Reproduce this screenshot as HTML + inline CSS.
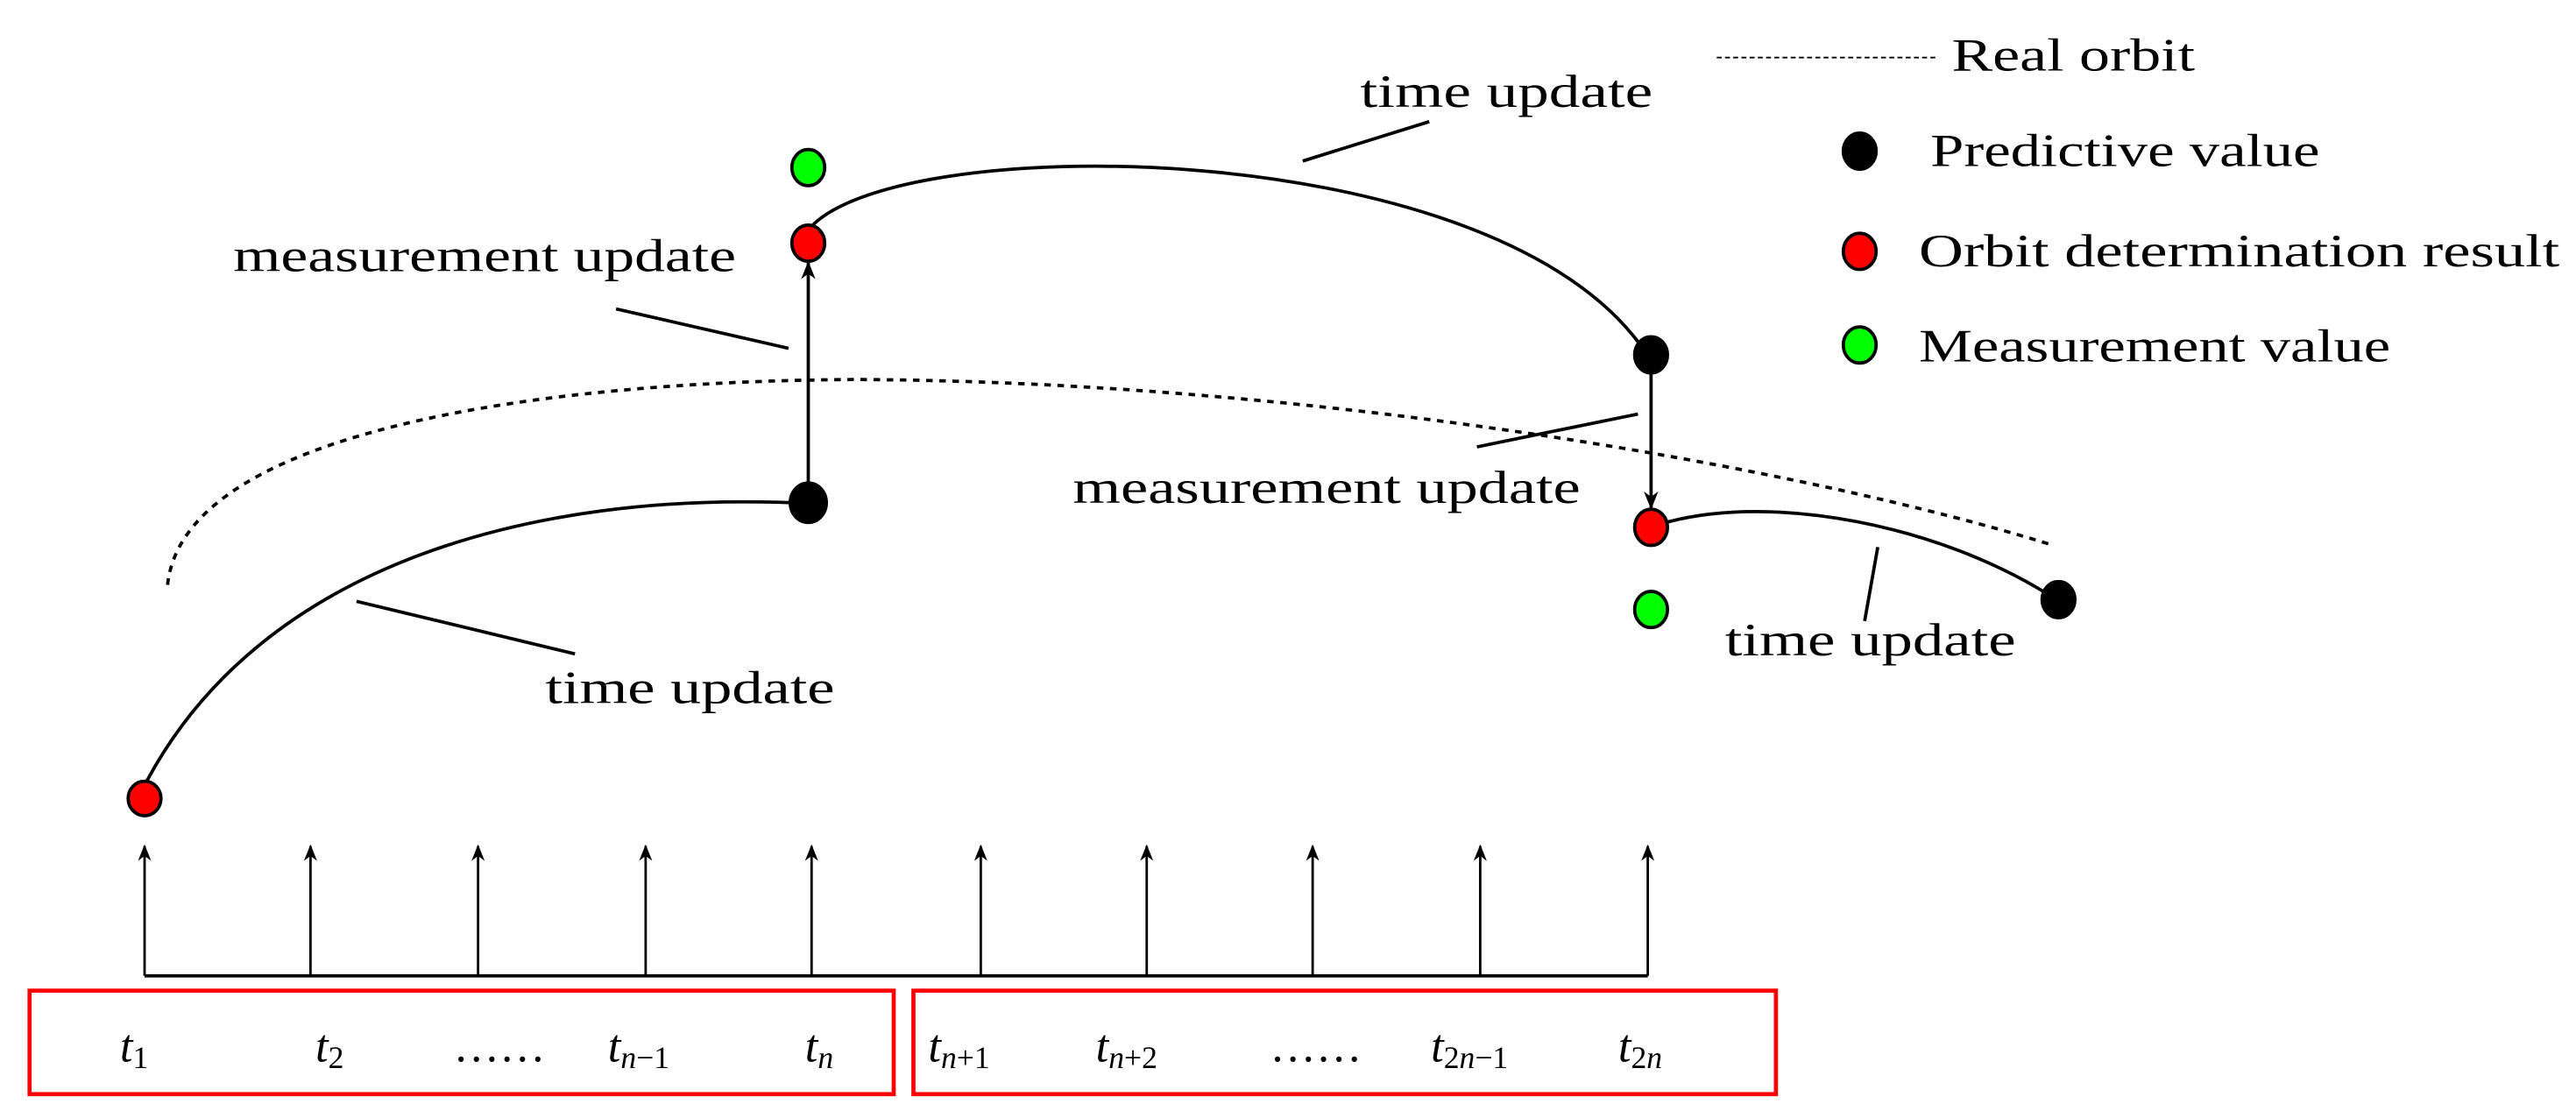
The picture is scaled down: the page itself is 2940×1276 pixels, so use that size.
<!DOCTYPE html>
<html><head><meta charset="utf-8"><style>
html,body{margin:0;padding:0;background:#fff;}
svg{display:block;}
text{font-family:"Liberation Serif",serif;fill:#000;}
</style></head><body>
<svg width="2940" height="1276" viewBox="0 0 1568 680.5" xmlns="http://www.w3.org/2000/svg">
<defs>
<marker id="ah" viewBox="0 0 10 10" refX="9" refY="5" markerWidth="12" markerHeight="10" markerUnits="userSpaceOnUse" orient="auto">
<path d="M0,1 L10,5 L0,9 L3,5 Z" fill="#000"/></marker>
<marker id="ah2" viewBox="0 0 10 10" refX="9" refY="5" markerWidth="13" markerHeight="11" markerUnits="userSpaceOnUse" orient="auto">
<path d="M0,1 L10,5 L0,9 L3,5 Z" fill="#000"/></marker>
</defs>
<line x1="88" y1="594" x2="1003" y2="594" stroke="#000" stroke-width="2"/>
<g stroke="#000" stroke-width="1.5" marker-end="url(#ah)">
<line x1="88" y1="594" x2="88" y2="515"/>
<line x1="189" y1="594" x2="189" y2="515"/>
<line x1="291" y1="594" x2="291" y2="515"/>
<line x1="393" y1="594" x2="393" y2="515"/>
<line x1="494" y1="594" x2="494" y2="515"/>
<line x1="597" y1="594" x2="597" y2="515"/>
<line x1="698" y1="594" x2="698" y2="515"/>
<line x1="799" y1="594" x2="799" y2="515"/>
<line x1="901" y1="594" x2="901" y2="515"/>
<line x1="1003" y1="594" x2="1003" y2="515"/>
</g>
<rect x="18" y="603" width="526" height="63" fill="none" stroke="#f00" stroke-width="2.5"/>
<rect x="556" y="603" width="525" height="63" fill="none" stroke="#f00" stroke-width="2.5"/>
<g font-size="28" font-style="italic">
<text x="73" y="646">t<tspan font-size="19" font-style="normal" dy="4">1</tspan></text>
<text x="192" y="646">t<tspan font-size="19" font-style="normal" dy="4">2</tspan></text>
<text x="276" y="646" font-style="normal">……</text>
<text x="370" y="646">t<tspan font-size="19" dy="4">n</tspan><tspan font-size="19" font-style="normal">−1</tspan></text>
<text x="490" y="646">t<tspan font-size="19" dy="4">n</tspan></text>
<text x="565" y="646">t<tspan font-size="19" dy="4">n</tspan><tspan font-size="19" font-style="normal">+1</tspan></text>
<text x="667" y="646">t<tspan font-size="19" dy="4">n</tspan><tspan font-size="19" font-style="normal">+2</tspan></text>
<text x="773" y="646" font-style="normal">……</text>
<text x="871" y="646">t<tspan font-size="19" font-style="normal" dy="4">2</tspan><tspan font-size="19">n</tspan><tspan font-size="19" font-style="normal">−1</tspan></text>
<text x="985" y="646">t<tspan font-size="19" font-style="normal" dy="4">2</tspan><tspan font-size="19">n</tspan></text>
</g>
<path d="M102,356 C112,262 330,232 520,231 C800,232 1100,285 1250,332" fill="none" stroke="#000" stroke-width="2" stroke-dasharray="4,4"/>
<path d="M88,478 C160,340 330,300 482,306" fill="none" stroke="#000" stroke-width="2"/>
<path d="M492,140 C540,80 900,80 997,208" fill="none" stroke="#000" stroke-width="2"/>
<path d="M1014,318 C1080,300 1180,320 1247,362" fill="none" stroke="#000" stroke-width="2"/>
<line x1="492" y1="298" x2="492" y2="160" stroke="#000" stroke-width="2" marker-end="url(#ah2)"/>
<line x1="1005" y1="226" x2="1005" y2="309" stroke="#000" stroke-width="2" marker-end="url(#ah2)"/>
<g stroke="#000" stroke-width="2">
<line x1="375" y1="188" x2="480" y2="212"/>
<line x1="793" y1="98" x2="870" y2="74"/>
<line x1="899" y1="272" x2="997" y2="252"/>
<line x1="217" y1="366" x2="350" y2="398"/>
<line x1="1143" y1="333" x2="1135" y2="378"/>
</g>
<g stroke="#000" stroke-width="2">
<ellipse cx="88" cy="486" rx="10" ry="10.5" fill="#f00"/>
<ellipse cx="492" cy="306" rx="11" ry="12" fill="#000"/>
<ellipse cx="492" cy="148" rx="10" ry="11" fill="#f00"/>
<ellipse cx="492" cy="102" rx="10" ry="11" fill="#0f0"/>
<ellipse cx="1005" cy="216" rx="10" ry="11" fill="#000"/>
<ellipse cx="1005" cy="321" rx="10" ry="11" fill="#f00"/>
<ellipse cx="1005" cy="371" rx="10" ry="11" fill="#0f0"/>
<ellipse cx="1253" cy="365" rx="10" ry="11" fill="#000"/>
<ellipse cx="1132" cy="92" rx="10" ry="11" fill="#000"/>
<ellipse cx="1132" cy="153" rx="10" ry="11" fill="#f00"/>
<ellipse cx="1132" cy="210" rx="10" ry="11" fill="#0f0"/>
</g>
<line x1="1045" y1="35" x2="1178" y2="35" stroke="#000" stroke-width="1" stroke-dasharray="3,2"/>
<g font-size="28">
<text x="142" y="165" textLength="306" lengthAdjust="spacingAndGlyphs">measurement update</text>
<text x="828" y="65" textLength="178" lengthAdjust="spacingAndGlyphs">time update</text>
<text x="653" y="306" textLength="309" lengthAdjust="spacingAndGlyphs">measurement update</text>
<text x="332" y="428" textLength="176" lengthAdjust="spacingAndGlyphs">time update</text>
<text x="1050" y="399" textLength="177" lengthAdjust="spacingAndGlyphs">time update</text>
<text x="1188" y="43" textLength="148" lengthAdjust="spacingAndGlyphs">Real orbit</text>
<text x="1175" y="101" textLength="237" lengthAdjust="spacingAndGlyphs">Predictive value</text>
<text x="1168" y="162" textLength="390" lengthAdjust="spacingAndGlyphs">Orbit determination result</text>
<text x="1168" y="220" textLength="287" lengthAdjust="spacingAndGlyphs">Measurement value</text>
</g>
</svg>
</body></html>
